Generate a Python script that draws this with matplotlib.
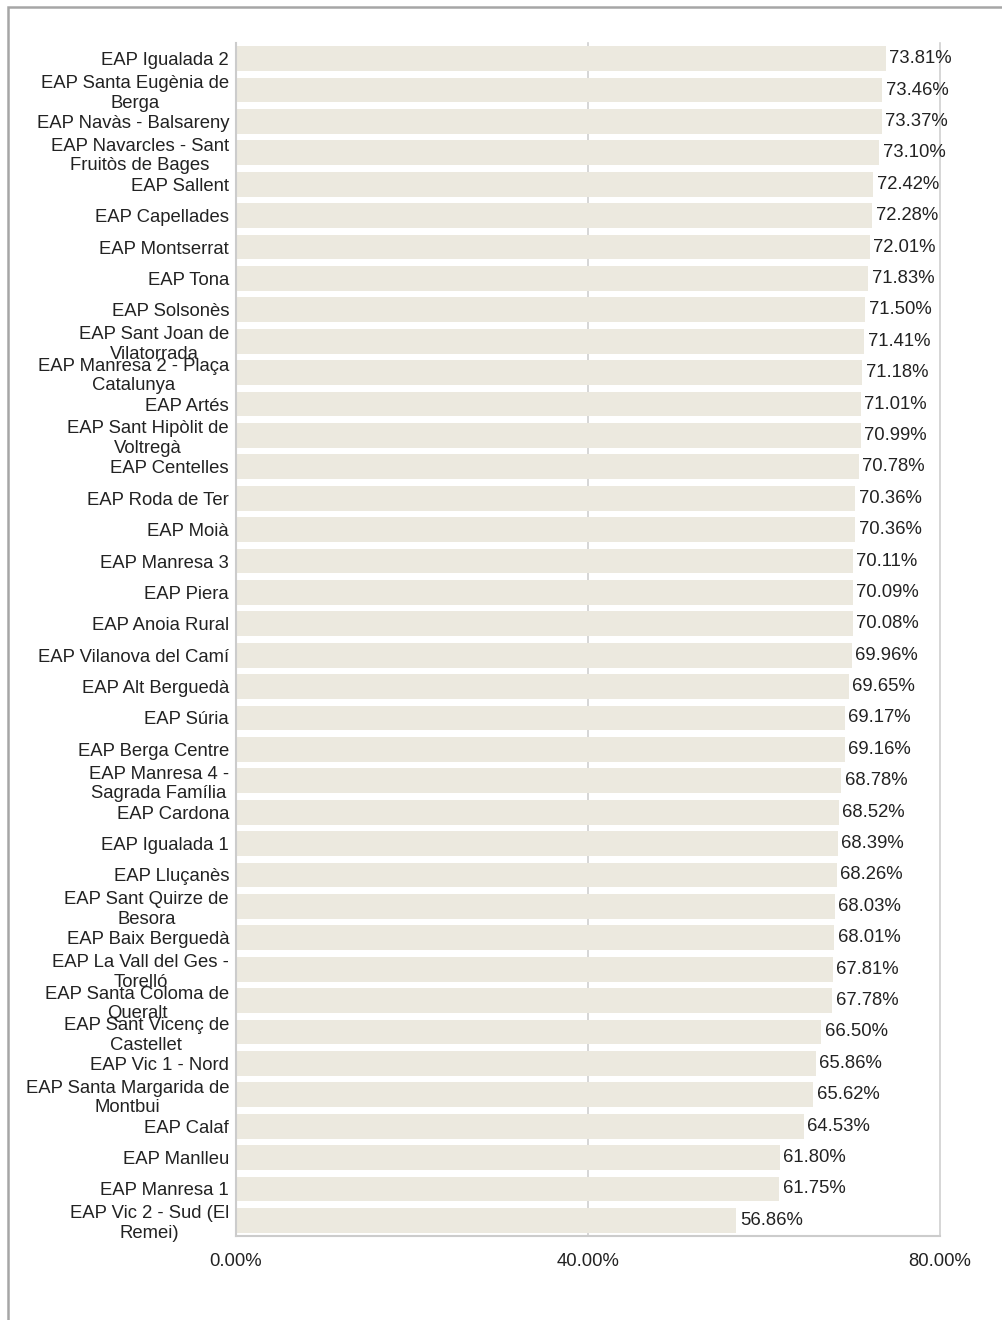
import matplotlib.pyplot as plt
from matplotlib.patches import Rectangle

plt.rcParams['font.family'] = ['Liberation Sans', 'DejaVu Sans']

centres = [
    "EAP Igualada 2", "EAP Santa Eugènia de\nBerga", "EAP Navàs - Balsareny",
    "EAP Navarcles - Sant\nFruitòs de Bages", "EAP Sallent", "EAP Capellades",
    "EAP Montserrat", "EAP Tona", "EAP Solsonès", "EAP Sant Joan de\nVilatorrada",
    "EAP Manresa 2 - Plaça\nCatalunya", "EAP Artés", "EAP Sant Hipòlit de\nVoltregà",
    "EAP Centelles", "EAP Roda de Ter", "EAP Moià", "EAP Manresa 3", "EAP Piera",
    "EAP Anoia Rural", "EAP Vilanova del Camí", "EAP Alt Berguedà", "EAP Súria",
    "EAP Berga Centre", "EAP Manresa 4 -\nSagrada Família", "EAP Cardona",
    "EAP Igualada 1", "EAP Lluçanès", "EAP Sant Quirze de\nBesora", "EAP Baix Berguedà",
    "EAP La Vall del Ges -\nTorelló", "EAP Santa Coloma de\nQueralt",
    "EAP Sant Vicenç de\nCastellet", "EAP Vic 1 - Nord", "EAP Santa Margarida de\nMontbui",
    "EAP Calaf", "EAP Manlleu", "EAP Manresa 1", "EAP Vic 2 - Sud (El\nRemei)",
]
valors = [
    73.81, 73.46, 73.37, 73.10, 72.42, 72.28, 72.01, 71.83, 71.50, 71.41,
    71.18, 71.01, 70.99, 70.78, 70.36, 70.36, 70.11, 70.09, 70.08, 69.96,
    69.65, 69.17, 69.16, 68.78, 68.52, 68.39, 68.26, 68.03, 68.01, 67.81,
    67.78, 66.50, 65.86, 65.62, 64.53, 61.80, 61.75, 56.86,
]
xticks = [0, 40, 80]

fs = 13.3
fig = plt.figure(figsize=(10.02, 13.2), dpi=100)
ax = fig.add_axes([236 / 1002, 1 - 1236 / 1320, (940 - 236) / 1002, (1236 - 43) / 1320])

pos = list(range(len(centres)))
ax.barh(pos, valors, height=0.79, color='#ece9df', zorder=2)
for p, v in zip(pos, valors):
    ax.text(v + 0.4, p, f"{v:.2f}%", va='center', ha='left', fontsize=fs, color='#222222')

ax.set_ylim(len(centres) - 0.5, -0.5)
ax.set_xlim(0, 80)
ax.set_yticks(pos)
ax.set_yticklabels(centres, fontsize=fs, color='#222222')
for lab in ax.get_yticklabels():
    lab.set_multialignment('center')
ax.set_xticks(xticks)
ax.set_xticklabels([f"{t:.2f}%" for t in xticks], fontsize=fs, color='#222222')
ax.tick_params(axis='y', length=0, pad=5)
ax.tick_params(axis='x', length=0, pad=12)

for t in xticks[1:]:
    ax.axvline(t, color='#d0d0d0', linewidth=1.2, zorder=1, clip_on=False)
for s in ['top', 'right']:
    ax.spines[s].set_visible(False)
for s in ['left', 'bottom']:
    ax.spines[s].set_color('#cccccc')
    ax.spines[s].set_linewidth(1.5)

# outer frame, cut off on right and bottom
fig.add_artist(Rectangle((8 / 1002, -0.1), 1.1, 1.1 - 7 / 1320, transform=fig.transFigure,
                         fill=False, edgecolor='#a6a6a6', linewidth=1.8))

fig.savefig('out.png', dpi=100)
